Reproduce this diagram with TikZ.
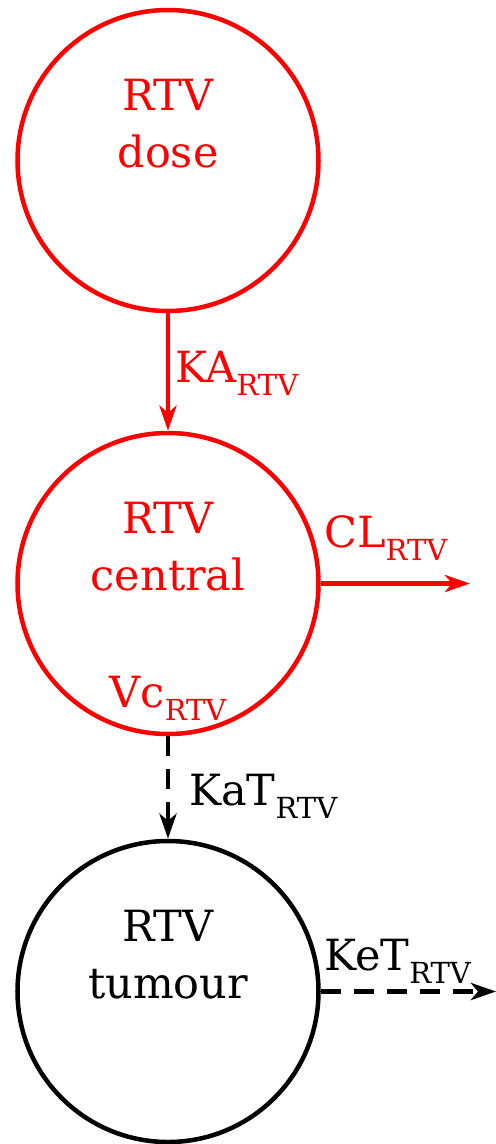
\documentclass[tikz,border=0pt]{standalone}
\usepackage{fontspec}
\setmainfont{DejaVu Serif}
\usetikzlibrary{arrows.meta}
\newcommand\rtvsub{\raisebox{-13bp}{\fontsize{29bp}{29bp}\selectfont RTV}}
\tikzset{
  comp/.style={circle, draw, line width=4.5bp, minimum size=301bp, inner sep=0pt},
  txt/.style={inner sep=0pt, anchor=base, font=\fontsize{43bp}{57bp}\selectfont},
  lbl/.style={inner sep=0pt, anchor=base west, font=\fontsize{43bp}{57bp}\selectfont},
  flow/.style={line width=4.5bp, -{Stealth[length=25bp,width=17bp,inset=7bp]}},
  tflow/.style={flow, dash pattern=on 20bp off 13bp},
}
\begin{document}
\begin{tikzpicture}[x=1bp,y=-1bp]
\useasboundingbox (0,0) rectangle (496,1144);

% compartments
\node[comp, red] (dose) at (168,160.5) {};
\node[comp, red] (central) at (168,583.5) {};
\node[comp] (tumour) at (168,991.5) {};

% compartment names
\node[txt, red] (doseA) at (168,110.5) {RTV};
\node[txt, red] (doseB) at (168,167.5) {dose};
\node[txt, red] (centralA) at (168,533.5) {RTV};
\node[txt, red] (centralB) at (168,590.5) {central};
\node[txt, red] (vc) at (168,707) {Vc\rtvsub};
\node[txt] (tumourA) at (168,941.5) {RTV};
\node[txt] (tumourB) at (168,998.5) {tumour};

% outflow ends
\coordinate (clend) at (470,583.5);
\coordinate (ketend) at (496,991.5);

% transfers
\draw[flow, red] (dose.south) -- (central.north);
\node[lbl, red] (ka) at (175,382) {KA\rtvsub};
\draw[flow, red] (central.east) -- (clend);
\node[lbl, red] (cl) at (324,547) {CL\rtvsub};
\draw[tflow] (central.south) -- (tumour.north);
\node[lbl] (kat) at (189,805) {KaT\rtvsub};
\draw[tflow] (tumour.east) -- (ketend);
\node[lbl] (ket) at (324,970) {KeT\rtvsub};
\end{tikzpicture}
\end{document}
